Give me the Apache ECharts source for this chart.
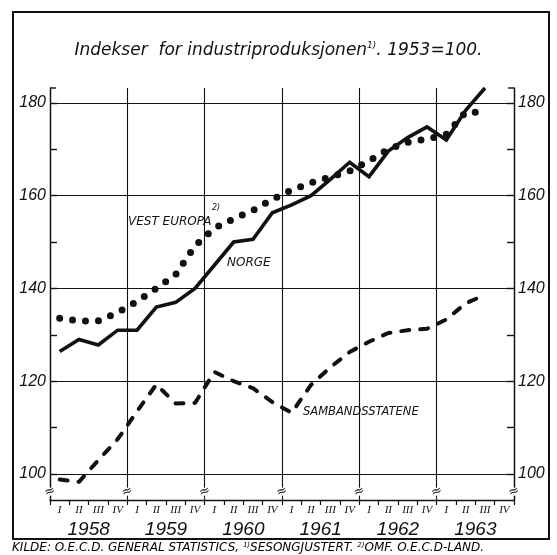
<!DOCTYPE html>
<html><head><meta charset="utf-8">
<script src="https://cdn.jsdelivr.net/npm/echarts@6/dist/echarts.min.js"></script>
<style>html,body{margin:0;padding:0;background:#fff}#c{width:557px;height:555px}</style>
</head><body><div id="c"></div>
<script>
// ---- data ----
const quarters = ['I','II','III','IV','I','II','III','IV','I','II','III','IV','I','II','III','IV','I','II','III','IV','I','II','III','IV'];
const years = ['1958','1959','1960','1961','1962','1963'];
const yLabelValues = [100,120,140,160,180];
const yTickValues = [100,110,120,130,140,150,160,170,180];
const norge = [126.4,129,127.8,131, 131,136,137,140, 145,150,150.6,156.3, 158,160,163.5,167.2, 164.1,169.6,172.5,174.8, 172,178.4,183.2,null];
const vestEuropa = [133.6,133.0,133.0,134.8, 137.2,140.0,143.0,149.2, 153.0,155.0,156.8,159.2, 161.2,162.8,164.0,165.3, 167.5,170.0,171.5,172.2, 173.2,178.0,178.0,null];
const sambandsstatene = [98.8,98.3,103.0,107.5, 113.5,119.3,115.2,115.3, 122.0,120.0,118.5,115.5, 113.2,119.2,123.0,126.3, 128.5,130.4,131.0,131.3, 133.3,136.8,138.6,null];
const yMin = 94.4, yMax = 183.2;

const INK = '#111';
const FONT = 'DejaVu Sans';
const NUMFONT = '"Liberation Sans", Arial, sans-serif';
const chart = echarts.init(document.getElementById('c'), null, {renderer:'canvas'});

function yAxisDef(pos){
  return {
    type:'value', position:pos, min:yMin, max:yMax,
    axisLine:{show:true, lineStyle:{color:INK, width:1.4}},
    axisTick:{show:true, inside:true, length:7, customValues:yTickValues, lineStyle:{color:INK, width:1.4}},
    axisLabel:{show:true, customValues:yLabelValues, color:INK, fontFamily:NUMFONT, fontStyle:'italic', fontSize:16, margin:4},
    splitLine:{show:false}
  };
}

const option = {
  backgroundColor:'#fff',
  animation:false,
  title:{
    left:'center', top:36,
    text:'{a|Indekser  for industriproduksjonen}{s|1)}{a|. 1953=100.}',
    textStyle:{fontWeight:'normal', rich:{
      a:{fontFamily:FONT, fontStyle:'italic', fontWeight:'normal', fontSize:17, color:INK},
      s:{fontFamily:FONT, fontStyle:'italic', fontWeight:'normal', fontSize:9, color:INK, verticalAlign:'top', padding:[0,0,10,0]}
    }}
  },
  grid:{left:50, right:43, top:88, bottom:55},
  xAxis:[
    { type:'category', data:quarters, position:'bottom', boundaryGap:true,
      axisLine:{show:true, lineStyle:{color:INK, width:1.4}},
      axisTick:{show:true, length:5, interval:0, alignWithLabel:false, lineStyle:{color:INK, width:1.2}},
      axisLabel:{interval:0, margin:5, color:INK, fontFamily:'Liberation Serif', fontStyle:'italic', fontSize:11},
      splitLine:{show:false}
    },
    { type:'category', data:years, position:'bottom', boundaryGap:true,
      axisLine:{show:false}, axisTick:{show:false},
      axisLabel:{interval:0, margin:20, color:INK, fontFamily:NUMFONT, fontStyle:'italic', fontSize:19},
      splitLine:{show:true, interval:0, lineStyle:{color:INK, width:1.1}}
    }
  ],
  yAxis:[yAxisDef('left'), yAxisDef('right')],
  series:[
    { name:'Sambandsstatene', type:'line', data:sambandsstatene, xAxisIndex:0, yAxisIndex:0,
      symbol:'none', smooth:false,
      lineStyle:{color:INK, width:4, type:[8,11], cap:'round'},
      markLine:{silent:true, symbol:'none', label:{show:false},
        lineStyle:{color:INK, width:1.1, type:'solid'},
        data: yLabelValues.map(v=>({yAxis:v}))}
    },
    { name:'Vest Europa', type:'line', data:vestEuropa, xAxisIndex:0, yAxisIndex:0,
      symbol:'none', smooth:false,
      lineStyle:{color:INK, width:7, type:[0,13], cap:'round'}
    },
    { name:'Norge', type:'line', data:norge, xAxisIndex:0, yAxisIndex:0,
      symbol:'none', smooth:false,
      lineStyle:{color:INK, width:3.6, cap:'butt', join:'miter'}
    }
  ]
};
chart.setOption(option);

// decorations: frame, annotations, axis-break marks
const c0 = chart.convertToPixel({xAxisIndex:0}, 0);
const c1 = chart.convertToPixel({xAxisIndex:0}, 1);
const band = c1 - c0;
const yBreak = chart.convertToPixel({yAxisIndex:0}, 96.2);
const yTop = chart.convertToPixel({yAxisIndex:0}, yMax);
const xLeft = c0 - band/2;
const xRight = xLeft + band*quarters.length;
const g = [
  {type:'rect', shape:{x:13,y:12,width:536,height:527}, style:{fill:'none', stroke:INK, lineWidth:2}, z:-1},
  {type:'line', shape:{x1:xLeft,y1:yTop,x2:xLeft+6,y2:yTop}, style:{stroke:INK,lineWidth:1.4}},
  {type:'line', shape:{x1:xRight-6,y1:yTop,x2:xRight,y2:yTop}, style:{stroke:INK,lineWidth:1.4}},
  {type:'text', x:128, y:222, style:{text:'VEST EUROPA', fontFamily:FONT, fontStyle:'italic', fontSize:12, fill:INK, verticalAlign:'middle'}},
  {type:'text', x:212, y:208, style:{text:'2)', fontFamily:FONT, fontStyle:'italic', fontSize:8, fill:INK, verticalAlign:'middle'}},
  {type:'text', x:227, y:263, style:{text:'NORGE', fontFamily:FONT, fontStyle:'italic', fontSize:12, fill:INK, verticalAlign:'middle'}},
  {type:'text', x:303, y:412, style:{text:'SAMBANDSSTATENE', fontFamily:FONT, fontStyle:'italic', fontSize:11.5, fill:INK, verticalAlign:'middle'}},
  {type:'text', x:12, y:548, style:{
     text:'{a|KILDE: O.E.C.D. GENERAL STATISTICS, }{s|1)}{a|SESONGJUSTERT. }{s|2)}{a|OMF. O.E.C.D-LAND.}',
     verticalAlign:'middle',
     rich:{a:{fontFamily:FONT, fontStyle:'italic', fontSize:12, color:INK},
           s:{fontFamily:FONT, fontStyle:'italic', fontSize:7, color:INK, verticalAlign:'top'}}}}
];
for (let k = 0; k <= years.length; k++) {
  const xb = xLeft + k*4*band;
  g.push({type:'rect', shape:{x:xb-3, y:yBreak-4, width:6, height:8}, style:{fill:'#fff'}, z:50});
  g.push({type:'text', x:xb, y:yBreak, style:{text:'≈', fontFamily:FONT, fontSize:13, fill:INK, align:'center', verticalAlign:'middle'}, z:51, rotation:0.35});
}
chart.setOption({graphic:g});
</script>
</body></html>
